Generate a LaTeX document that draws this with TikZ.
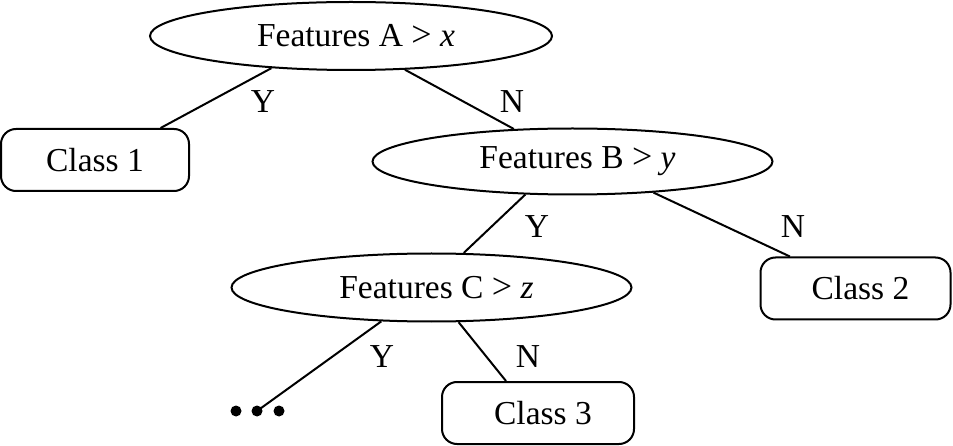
\documentclass[tikz,border=0pt]{standalone}
\usepackage{fontspec}
\setmainfont{Liberation Serif}
\usetikzlibrary{shapes.geometric,calc}
\newcommand{\gtsym}{{\fontsize{36}{40}\selectfont>}}
\newcommand{\lead}{\hspace*{10pt}}
\begin{document}
\begin{tikzpicture}[x=1pt,y=-1pt, line width=2pt,
  test/.style={draw, ellipse, minimum width=402pt, minimum height=68pt, inner sep=0pt},
  leaf/.style={draw, rounded corners=15pt, minimum height=62pt, inner sep=0pt},
  lbl/.style={inner sep=0pt},
  dotnode/.style={circle, fill, inner sep=0pt, minimum size=11pt},
  font=\fontsize{33.5}{40}\selectfont]
\useasboundingbox (0,0) rectangle (953,446);
% decision nodes
\node[test] (A) at (351,36) {\lead Features A \gtsym{} \textit{x}};
\node[test, minimum width=400pt, minimum height=66pt] (B) at (572.5,161.5) {\lead Features B \gtsym{} \textit{y}};
\node[test, minimum width=400pt] (C) at (431.5,287.5) {\lead Features C \gtsym{} \textit{z}};
% leaves
\node[leaf, minimum width=188pt] (C1) at (95,160) {Class 1};
\node[leaf, minimum width=190pt] (C2) at (855.5,288.5) {\lead Class 2};
\node[leaf, minimum width=192pt] (C3) at (538,413) {\lead Class 3};
% dots
\node[dotnode] (d1) at (236,411) {};
\node[dotnode] (d2) at (257,411) {};
\node[dotnode] (d3) at (279,411) {};
% connectors
\draw (A.202) -- (C1.26);
\draw (A.328) -- (B.151);
\draw (B.215) -- (C.47);
\draw (B.339) -- (C2.154);
\draw (C.214) -- (d2.center);
\draw (C.308) -- (C3.135);
% labels
\node[lbl] (yA) at (263,102) {Y};
\node[lbl] (nA) at (512,102) {N};
\node[lbl] (yB) at (537,227) {Y};
\node[lbl] (nB) at (793,227) {N};
\node[lbl] (yC) at (382,357) {Y};
\node[lbl] (nC) at (528,357) {N};
\end{tikzpicture}
\end{document}
